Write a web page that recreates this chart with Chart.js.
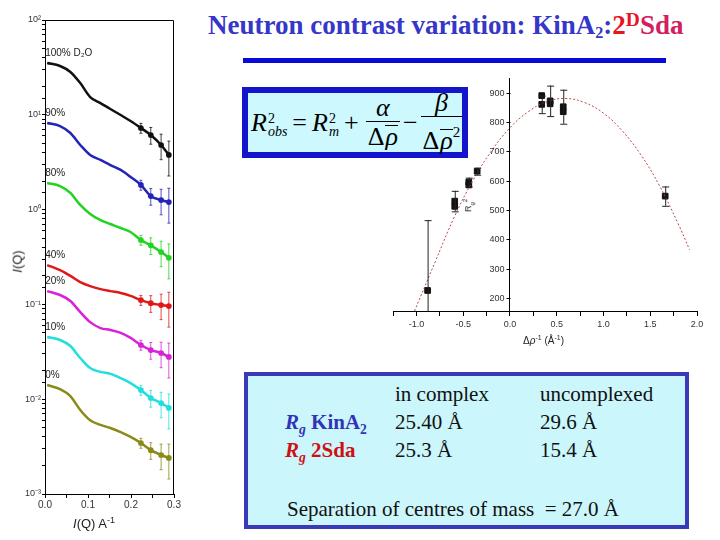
<!DOCTYPE html>
<html>
<head>
<meta charset="utf-8">
<script src="https://cdn.jsdelivr.net/npm/chart.js@4.4.1/dist/chart.umd.min.js"></script>
<style>
  body { margin: 0; background: #fff; }
  #slide { position: relative; width: 720px; height: 540px; overflow: hidden; background: #fff; font-family: "Liberation Serif", serif; }
  canvas { position: absolute; }
  .abs { position: absolute; white-space: nowrap; }
  .title { left: 208px; top: 10px; font-size: 27px; font-weight: bold; color: #3636c8; line-height: 30px; }
  .title sub { font-size: 0.6em; vertical-align: -4px; line-height: 0; }
  .title sup { font-size: 0.72em; vertical-align: 8px; line-height: 0; }
  .rule { left: 243px; top: 58px; width: 423px; height: 5px; background: #0a0ad8; }
  .fbox { left: 242px; top: 87px; width: 226px; height: 71px; box-sizing: border-box; border: 6px solid #1414cc; background: #cdf8fe; }
  .formula { left: 251px; top: 92px; height: 61px; display: flex; align-items: center; font-size: 26px; font-family: "Liberation Serif", serif; }
  .ss { display: inline-flex; flex-direction: column; font-size: 14px; line-height: 13px; margin-left: 1px; margin-top: 4px; }
  .frac { display: inline-flex; flex-direction: column; align-items: center; margin: 0 2px; }
  .frac .num { border-bottom: 1.5px solid #000; padding: 0 3px; line-height: 27px; text-align: center; width: 100%; box-sizing: border-box; }
  .frac .den { line-height: 30px; padding: 0 2px; }
  .bar { display: inline-block; border-top: 1.5px solid #000; line-height: 22px; margin-left: 1px; }
  .op { margin: 0 5px; }
  .tbox { left: 244px; top: 372px; width: 445px; height: 157px; box-sizing: border-box; border: 4px solid #3a3ab8; background: #cbf6fc; }
  .tt { font-size: 21px; line-height: 21px; color: #111; }
  .blue { color: #3333b8; font-weight: bold; }
  .red { color: #d01010; font-weight: bold; }
  .tt sub { font-size: 0.65em; line-height: 0; }
  .lab { font-family: "Liberation Sans", sans-serif; color: #222; }
</style>
</head>
<body>
<div id="slide">
  <canvas id="left" width="185" height="540" style="left:0;top:0"></canvas>
  <canvas id="right" width="330" height="290" style="left:380px;top:70px"></canvas>

  <div class="abs title">Neutron contrast variation: KinA<sub>2</sub>:<span style="color:#e8141e">2<sup>D</sup></span><span style="color:#d21f62">Sda</span></div>
  <div class="abs rule"></div>

  <div class="abs fbox"></div>
  <div class="abs formula">
    <i>R</i><span class="ss"><span>2</span><i>obs</i></span>
    <span class="op">=</span>
    <i>R</i><span class="ss"><span>2</span><i>m</i></span>
    <span class="op">+</span>
    <span class="frac"><span class="num"><i>α</i></span><span class="den">Δ<i class="bar">ρ</i></span></span>
    <span class="op" style="margin:0 1px">−</span>
    <span class="frac"><span class="num"><i>β</i></span><span class="den">Δ<i class="bar">ρ</i><span style="font-size:15px;vertical-align:12px">2</span></span></span>
  </div>

  <div class="abs tbox"></div>
  <div class="abs tt" style="left:395px;top:384px">in complex</div>
  <div class="abs tt" style="left:540px;top:384px">uncomplexed</div>
  <div class="abs tt blue" style="left:285px;top:412px"><i>R<sub>g</sub></i> KinA<sub>2</sub></div>
  <div class="abs tt" style="left:395px;top:412px">25.40 Å</div>
  <div class="abs tt" style="left:540px;top:412px">29.6 Å</div>
  <div class="abs tt red" style="left:285px;top:440px"><i>R<sub>g</sub></i> 2Sda</div>
  <div class="abs tt" style="left:395px;top:440px">25.3 Å</div>
  <div class="abs tt" style="left:540px;top:440px">15.4 Å</div>
  <div class="abs tt" style="left:287px;top:499px">Separation of centres of mass&nbsp; = 27.0 Å</div>

  <div class="abs lab" style="left:73px;top:515px;font-size:13px"><i>I</i>(Q) A<sup style="font-size:9px">-1</sup></div>
  <div class="abs lab" style="left:6px;top:254px;font-size:13px;transform:rotate(-90deg)"><i>I</i>(Q)</div>
  <div class="abs lab" style="left:523px;top:334px;font-size:10px">Δ<i>ρ</i><sup style="font-size:7px">-1</sup> (Å<sup style="font-size:7px">-1</sup>)</div>
  <div class="abs lab" style="left:462px;top:199px;font-size:9px;transform:rotate(-90deg)">R<sub style="font-size:6px">g</sub><sup style="font-size:6px">2</sup></div>
</div>

<script>
// scattering curves, I(Q) vs Q
const qVals = [0.005, 0.035, 0.059, 0.082, 0.105, 0.129, 0.152, 0.176, 0.199, 0.223, 0.246, 0.27, 0.288];
const d2o100 = [35.2, 32.7, 28.3, 21.6, 15.4, 13.3, 11.5, 9.95, 8.6, 7.26, 6.12, 4.8, 3.77];
const d2o90 = [8.2, 7.6, 6.43, 4.8, 3.77, 3.34, 2.95, 2.62, 2.21, 1.82, 1.39, 1.26, 1.2];
const d2o80 = [1.91, 1.77, 1.5, 1.12, 0.9, 0.776, 0.705, 0.64, 0.58, 0.478, 0.42, 0.357, 0.31];
const d2o40 = [0.26, 0.23, 0.2, 0.172, 0.156, 0.145, 0.138, 0.132, 0.123, 0.111, 0.103, 0.0986, 0.096];
const d2o20 = [0.138, 0.1256, 0.1086, 0.083, 0.065, 0.0563, 0.0537, 0.05, 0.0443, 0.0373, 0.033, 0.0307, 0.0279];
const d2o10 = [0.0453, 0.0421, 0.0364, 0.0272, 0.0213, 0.0194, 0.0185, 0.0167, 0.0148, 0.0125, 0.0103, 0.0091, 0.0081];
const d2o0 = [0.0141, 0.0128, 0.0108, 0.0077, 0.006, 0.00535, 0.00497, 0.0045, 0.004, 0.00345, 0.0029, 0.00258, 0.0024];
const tailErr = [0, 0, 0, 0, 0, 0, 0, 0, 0, 0.12, 0.2, 0.3, 0.4];
const seriesNames = ['100% D₂O', '90%', '80%', '40%', '20%', '10%', '0%'];
const seriesColors = ['#111111', '#2424b8', '#22d322', '#e01818', '#d822d8', '#22dede', '#8a8a18'];
const allSeries = [d2o100, d2o90, d2o80, d2o40, d2o20, d2o10, d2o0];
const leftXTicks = [0, 0.1, 0.2, 0.3];

// Rg^2 vs 1/drho
const rhoInv = [-0.88, -0.59, -0.59, -0.44, -0.44, -0.35, 0.34, 0.34, 0.43, 0.43, 0.57, 0.57, 1.66];
const rg2 = [225, 530, 512, 595, 585, 632, 890, 860, 872, 862, 852, 835, 547];
const rg2Err = [240, 35, 0, 15, 0, 12, 0, 30, 52, 0, 58, 0, 33];
const fitX = [-1.02, -0.8, -0.6, -0.4, -0.2, 0, 0.2, 0.4, 0.6, 0.8, 1.0, 1.2, 1.4, 1.6, 1.8, 1.92];
const fitY = [155, 322, 472, 598, 700, 780, 836, 870, 880, 866, 830, 770, 688, 582, 452, 364];
const rightYTicks = [200, 300, 400, 500, 600, 700, 800, 900];

const supMap = {'-': '⁻', '0': '⁰', '1': '¹', '2': '²', '3': '³', '4': '⁴', '5': '⁵'};
function sup(n) {
    return String(n).split('').map(c => supMap[c]).join('');
}

const frame = {
    id: 'frame',
    afterDraw(chart) {
        const a = chart.chartArea;
        const ctx = chart.ctx;
        ctx.save();
        ctx.strokeStyle = '#000';
        ctx.lineWidth = 1;
        ctx.beginPath();
        ctx.moveTo(a.left, a.top + 0.5);
        ctx.lineTo(a.right - 0.5, a.top + 0.5);
        ctx.lineTo(a.right - 0.5, a.bottom);
        ctx.stroke();
        ctx.restore();
    }
};

const curveExtras = {
    id: 'curveExtras',
    afterDatasetsDraw(chart) {
        const ctx = chart.ctx;
        const ys = chart.scales.y;
        ctx.save();
        chart.data.datasets.forEach((ds, i) => {
            const meta = chart.getDatasetMeta(i);
            ctx.strokeStyle = ds.borderColor;
            ctx.lineWidth = 0.8;
            meta.data.forEach((pt, j) => {
                const e = tailErr[j];
                if (!e) return;
                const v = ds.data[j].y;
                const y1 = ys.getPixelForValue(v * (1 + e));
                const y2 = ys.getPixelForValue(v * (1 - e));
                ctx.beginPath();
                ctx.moveTo(pt.x, y1); ctx.lineTo(pt.x, y2);
                ctx.moveTo(pt.x - 1.5, y1); ctx.lineTo(pt.x + 1.5, y1);
                ctx.moveTo(pt.x - 1.5, y2); ctx.lineTo(pt.x + 1.5, y2);
                ctx.stroke();
            });
            // series label above the start of the curve
            const first = meta.data[0];
            ctx.fillStyle = '#222';
            ctx.font = '10px "Liberation Sans"';
            ctx.textBaseline = 'bottom';
            ctx.fillText(seriesNames[i], first.x - 2, first.y - 5);
        });
        ctx.restore();
    }
};

new Chart(document.getElementById('left'), {
    type: 'scatter',
    data: {
        datasets: allSeries.map((s, i) => ({
            data: qVals.map((q, j) => ({x: q, y: s[j]})),
            showLine: true,
            borderColor: seriesColors[i],
            backgroundColor: seriesColors[i],
            borderWidth: 2.5,
            cubicInterpolationMode: 'monotone',
            pointRadius: qVals.map((q, j) => tailErr[j] ? 1.6 : 0)
        }))
    },
    options: {
        responsive: false,
        animation: false,
        layout: {padding: {top: 20, right: 11, left: 0, bottom: 0}},
        plugins: {legend: {display: false}, tooltip: {enabled: false}},
        scales: {
            x: {
                type: 'linear', min: 0, max: 0.3,
                afterBuildTicks: s => { s.ticks = [0, 0.05, 0.1, 0.15, 0.2, 0.25, 0.3].map(v => ({value: v})); },
                ticks: {
                    autoSkip: false, maxRotation: 0, color: '#333', font: {size: 10, family: 'Liberation Sans'}, padding: 1,
                    callback: v => leftXTicks.some(t => Math.abs(t - v) < 1e-6) ? v.toFixed(1) : ''
                },
                grid: {drawOnChartArea: false, tickLength: 4, color: '#000'},
                border: {color: '#000'},
                afterFit: s => { s.height = 46; }
            },
            y: {
                type: 'logarithmic', min: 1e-3, max: 100,
                ticks: {
                    autoSkip: false, color: '#333', font: {size: 9, family: 'Liberation Sans'}, padding: 1,
                    callback: v => {
                        const l = Math.log10(v);
                        return Math.abs(l - Math.round(l)) < 1e-9 ? '10' + sup(Math.round(l)) : '';
                    }
                },
                grid: {drawOnChartArea: false, tickLength: 3, color: '#000'},
                border: {color: '#000'},
                afterFit: s => { s.width = 45; }
            }
        }
    },
    plugins: [frame, curveExtras]
});

const errorBars = {
    id: 'errorBars',
    afterDatasetsDraw(chart) {
        const ctx = chart.ctx;
        const ys = chart.scales.y;
        const xs = chart.scales.x;
        const meta = chart.getDatasetMeta(1);
        ctx.save();
        ctx.strokeStyle = '#222';
        ctx.lineWidth = 1;
        meta.data.forEach((pt, j) => {
            const e = rg2Err[j];
            if (!e) return;
            const y1 = Math.max(ys.getPixelForValue(rg2[j] + e), chart.chartArea.top);
            const y2 = Math.min(ys.getPixelForValue(rg2[j] - e), chart.chartArea.bottom);
            ctx.beginPath();
            ctx.moveTo(pt.x + 0.5, y1); ctx.lineTo(pt.x + 0.5, y2);
            ctx.moveTo(pt.x - 3, y1 + 0.5); ctx.lineTo(pt.x + 4, y1 + 0.5);
            if (rg2[j] - e > ys.min) { ctx.moveTo(pt.x - 3, y2 + 0.5); ctx.lineTo(pt.x + 4, y2 + 0.5); }
            ctx.stroke();
        });
        // y axis ticks and labels, left of the axis line at x = 0
        const ax = Math.round(xs.getPixelForValue(0)) + 0.5;
        ctx.fillStyle = '#333';
        ctx.strokeStyle = '#000';
        ctx.font = '9px "Liberation Sans"';
        ctx.textAlign = 'right';
        ctx.textBaseline = 'middle';
        rightYTicks.forEach(v => {
            const py = Math.round(ys.getPixelForValue(v)) + 0.5;
            ctx.beginPath();
            ctx.moveTo(ax - 4, py); ctx.lineTo(ax, py);
            ctx.stroke();
            ctx.fillText(String(v), ax - 6, py);
        });
        ctx.restore();
    }
};

new Chart(document.getElementById('right'), {
    type: 'scatter',
    data: {
        datasets: [
            {
                data: fitX.map((x, i) => ({x: x, y: fitY[i]})),
                showLine: true, borderColor: '#b84848', borderWidth: 1, borderDash: [2, 2],
                pointRadius: 0, tension: 0.4
            },
            {
                data: rhoInv.map((x, i) => ({x: x, y: rg2[i]})),
                pointStyle: 'rect', pointRadius: 4,
                backgroundColor: '#111', borderColor: '#111'
            }
        ]
    },
    options: {
        responsive: false,
        animation: false,
        layout: {padding: {top: 8, right: 13, left: 13, bottom: 0}},
        plugins: {legend: {display: false}, tooltip: {enabled: false}},
        scales: {
            x: {
                type: 'linear', min: -1.25, max: 2.0,
                ticks: {
                    stepSize: 0.25, autoSkip: false, maxRotation: 0, color: '#333',
                    font: {size: 9, family: 'Liberation Sans'}, padding: 3,
                    callback: v => Math.abs(v * 2 - Math.round(v * 2)) < 1e-6 ? v.toFixed(1) : ''
                },
                grid: {drawOnChartArea: false, tickLength: 5, color: '#000'},
                border: {color: '#000'},
                afterFit: s => { s.height = 49; }
            },
            y: {
                position: {x: 0}, min: 155, max: 950,
                ticks: {display: false},
                grid: {drawOnChartArea: false, drawTicks: false},
                border: {color: '#000'}
            }
        }
    },
    plugins: [errorBars]
});
</script>
</body>
</html>
